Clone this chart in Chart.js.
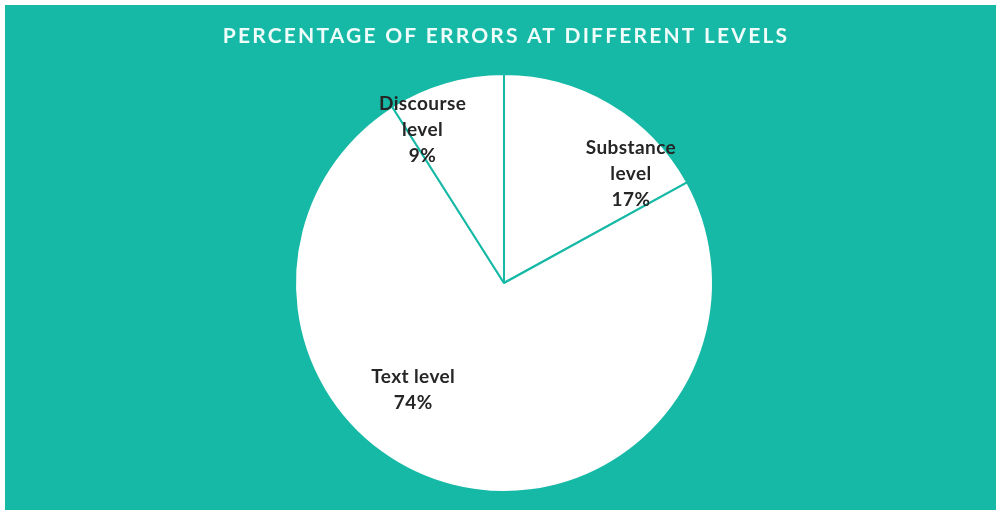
<!DOCTYPE html>
<html>
<head>
<meta charset="utf-8">
<script src="https://cdn.jsdelivr.net/npm/chart.js@4.4.1/dist/chart.umd.min.js"></script>
<style>
  html, body { margin: 0; padding: 0; background: #ffffff; }
  #wrap { position: absolute; left: 0; top: 0; width: 996px; height: 510px; }
</style>
</head>
<body>
<div id="wrap"><canvas id="chart" width="996" height="510"></canvas></div>
<script>
// Error levels and their shares (percent)
const categories = ["Substance level", "Text level", "Discourse level"];
const percentages = [17, 74, 9];
const labelLines = [["Substance", "level"], ["Text level"], ["Discourse", "level"]];
const chartTitle = "PERCENTAGE OF ERRORS AT DIFFERENT LEVELS";

const TEAL = "#16b9a6";
const INK = "#262626";

// Where each slice's label sits: angle from 12 o'clock (deg, clockwise) and fraction of radius
const labelPlacement = [
  { angle: 49.4, r: 0.80 },
  { angle: 220.4, r: 0.67 },
  { angle: 332.0, r: 0.83 }
];

const backdrop = {
  id: "backdrop",
  beforeDraw(chart) {
    const { ctx, width, height } = chart;
    ctx.save();
    ctx.fillStyle = "#ffffff";
    ctx.fillRect(0, 0, width, height);
    ctx.fillStyle = TEAL;
    ctx.fillRect(5, 5, width - 5, height - 5);
    // heading
    ctx.fillStyle = "#eefcfa";
    ctx.font = "bold 21px Lato";
    ctx.letterSpacing = "2.2px";
    ctx.textAlign = "center";
    ctx.textBaseline = "middle";
    ctx.fillText(chartTitle, 506, 36);
    ctx.restore();
  }
};

const sliceLabels = {
  id: "sliceLabels",
  afterDatasetsDraw(chart) {
    const { ctx } = chart;
    const meta = chart.getDatasetMeta(0);
    ctx.save();
    ctx.fillStyle = INK;
    ctx.font = "bold 19px Lato";
    ctx.letterSpacing = "0.4px";
    ctx.textAlign = "center";
    ctx.textBaseline = "middle";
    meta.data.forEach((arc, i) => {
      const p = labelPlacement[i];
      const a = (p.angle - 90) * Math.PI / 180;
      const cx = arc.x + Math.cos(a) * arc.outerRadius * p.r;
      const cy = arc.y + Math.sin(a) * arc.outerRadius * p.r;
      const lines = labelLines[i].concat([percentages[i] + "%"]);
      const lh = 26;
      const y0 = cy - (lines.length - 1) * lh / 2;
      lines.forEach((t, k) => ctx.fillText(t, cx, y0 + k * lh));
    });
    ctx.restore();
  }
};

new Chart(document.getElementById("chart"), {
  type: "pie",
  data: {
    labels: categories,
    datasets: [{
      data: percentages,
      backgroundColor: "#ffffff",
      borderColor: TEAL,
      borderWidth: 2,
      hoverOffset: 0
    }]
  },
  options: {
    responsive: false,
    animation: false,
    devicePixelRatio: 1,
    layout: { padding: { top: 73, bottom: 17, left: 12, right: 0 } },
    plugins: {
      legend: { display: false },
      title: { display: false },
      tooltip: { enabled: false }
    }
  },
  plugins: [backdrop, sliceLabels]
});
</script>
</body>
</html>
